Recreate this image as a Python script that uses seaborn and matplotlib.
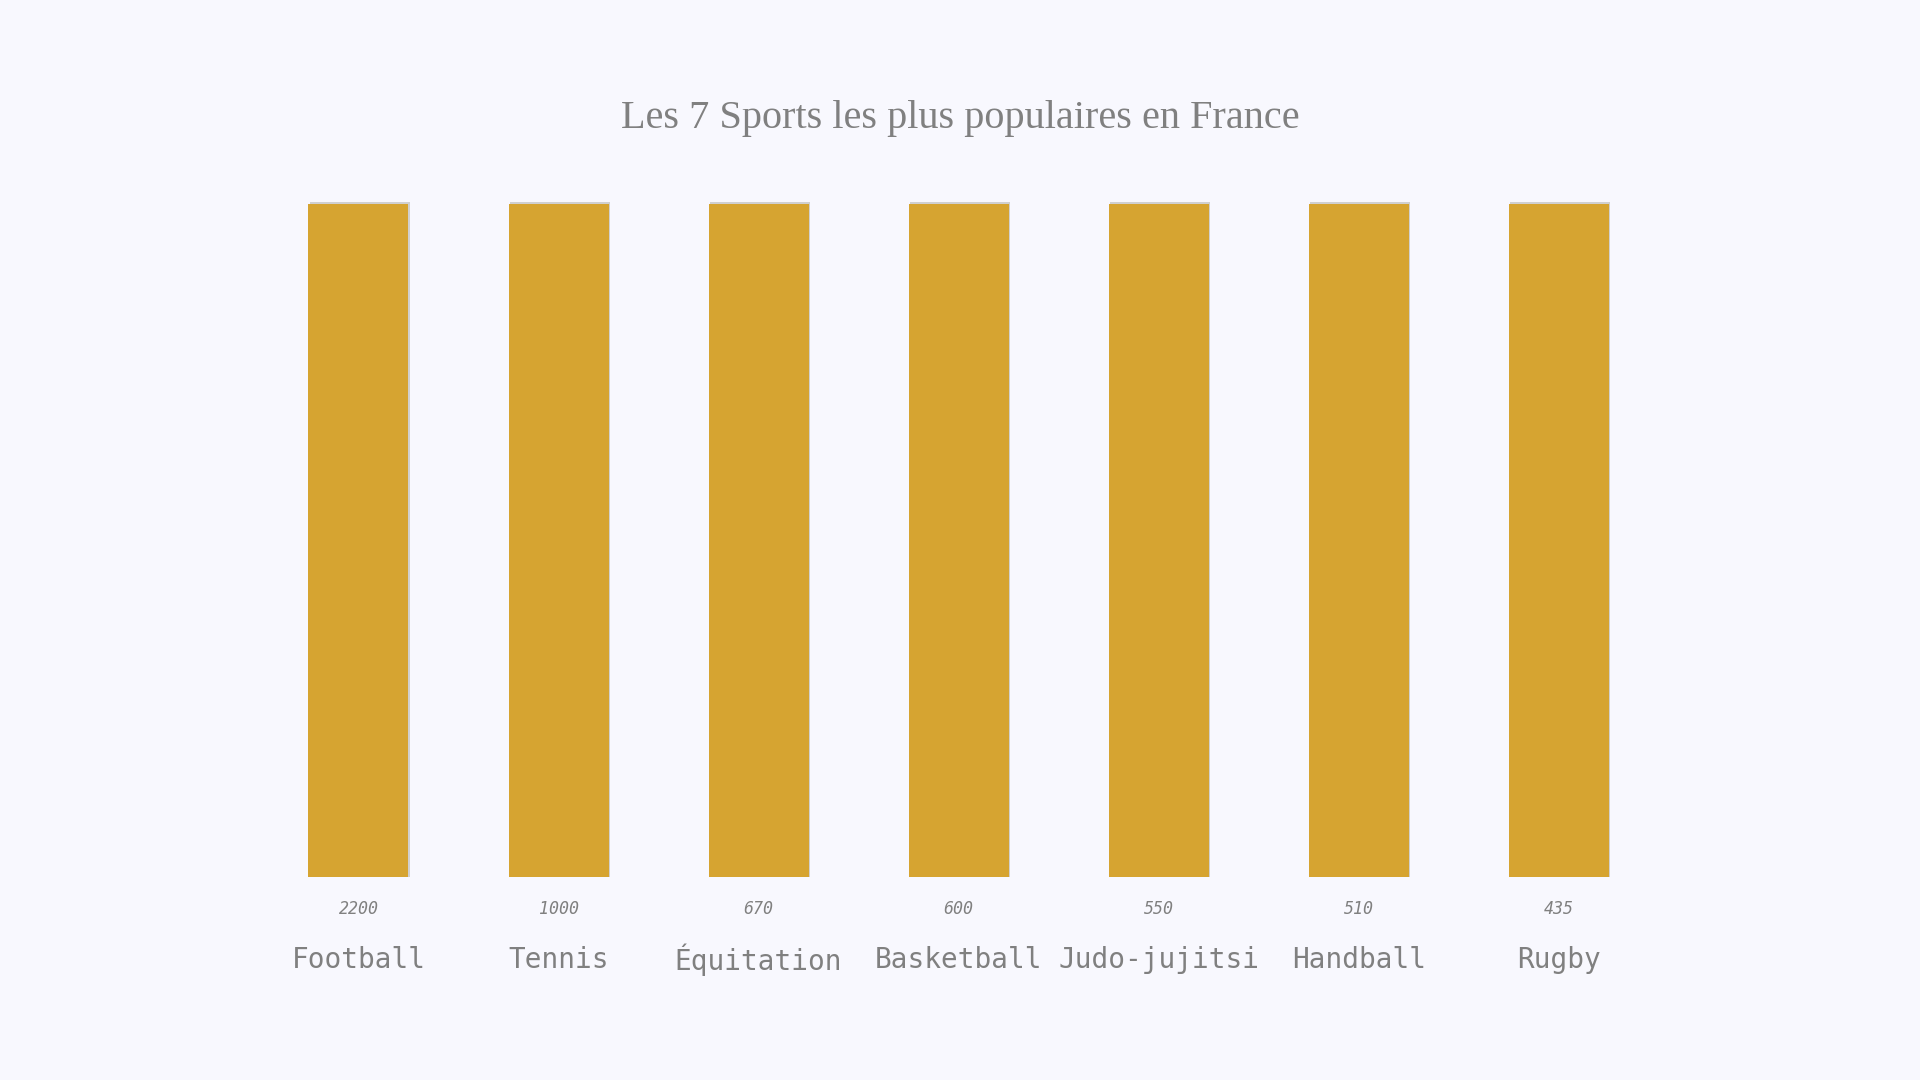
import matplotlib
matplotlib.use("Agg")
import matplotlib.pyplot as plt
import seaborn as sns
import pandas as pd

sports = ["Football", "Tennis", "Équitation", "Basketball", "Judo-jujitsi", "Handball", "Rugby"]
value_labels = ["2200", "1000", "670", "600", "550", "510", "435"]
bar_heights = [100, 100, 100, 100, 100, 100, 100]

df = pd.DataFrame({"sport": sports, "h": bar_heights})
bg = "#F8F8FE"
sns.set_theme(style="white")
fig = plt.figure(figsize=(19.2, 10.8), dpi=100, facecolor=bg)
ax = fig.add_axes([0.1346, 0.188, 0.7294, 0.626])
ax.set_facecolor(bg)
# subtle gray shadow to the right/top
df_sh = df.copy()
sns.barplot(data=df_sh, x="sport", y="h", color="#D0D0D0", width=0.5, saturation=1,
            linewidth=0, ax=ax)
for p in ax.patches:
    p.set_x(p.get_x() + 0.008)
    p.set_height(p.get_height() + 0.35)
n = len(ax.patches)
sns.barplot(data=df, x="sport", y="h", color="#D6A431", width=0.5, saturation=1,
            linewidth=0, ax=ax)
ax.set_xlim(-0.5, len(sports) - 0.5)
ax.set_ylim(0, 100.5)
ax.set_xticks([]); ax.set_yticks([])
ax.set_xlabel(""); ax.set_ylabel("")
for s in ax.spines.values():
    s.set_visible(False)
for i, (s, v) in enumerate(zip(sports, value_labels)):
    ax.text(i, -4.7, v, ha="center", va="center", fontsize=12, style="italic",
            family="DejaVu Sans Mono", color="#808080")
    ax.text(i, -12.3, s, ha="center", va="center", fontsize=20,
            family="DejaVu Sans Mono", color="#808080")
fig.text(0.5, 0.89, "Les 7 Sports les plus populaires en France", ha="center", va="center",
         fontsize=29, family="Liberation Serif", color="#808080")
fig.savefig("out.png", facecolor=bg)
